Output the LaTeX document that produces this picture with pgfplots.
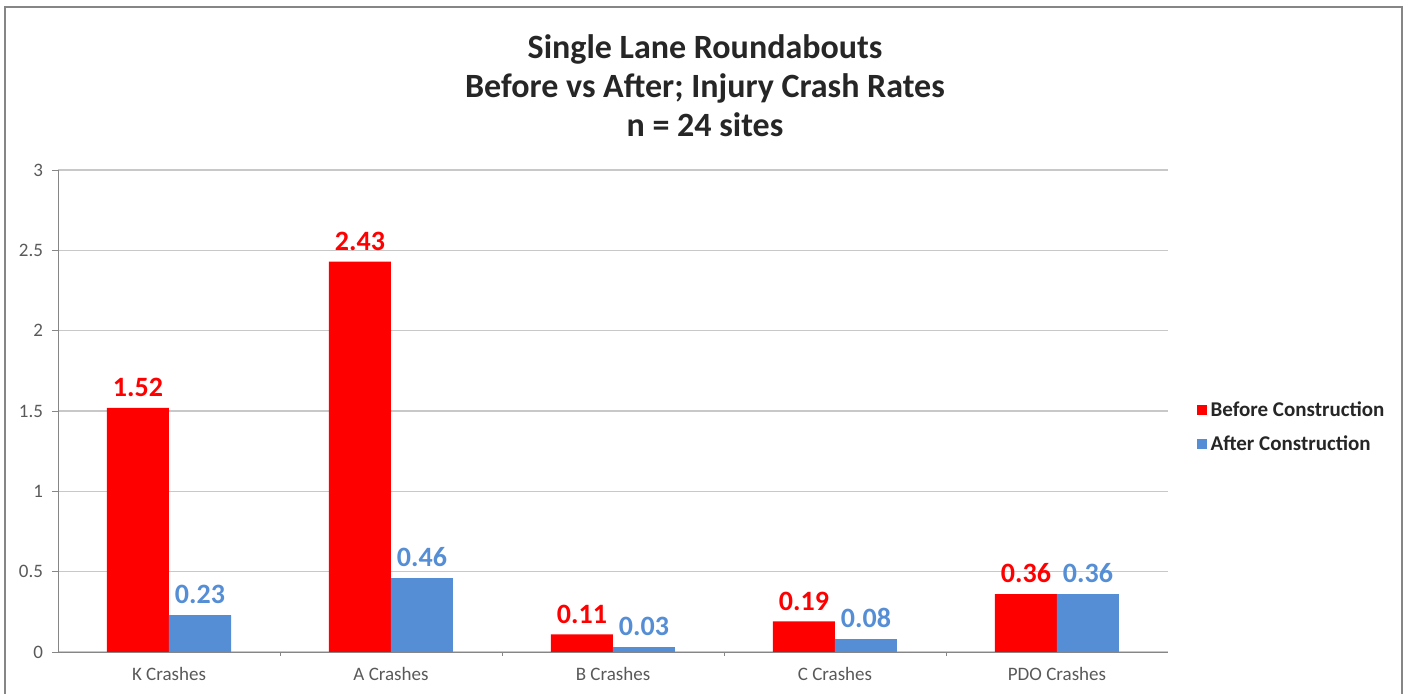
\documentclass[border=0pt]{standalone}
\usepackage{fontspec}
\setmainfont{Carlito}
\usepackage{pgfplots}
\pgfplotsset{compat=1.18}
\definecolor{bred}{RGB}{255,0,0}
\definecolor{bblue}{RGB}{85,142,213}
\definecolor{gridc}{RGB}{200,200,200}
\definecolor{axc}{RGB}{134,134,134}
\definecolor{tickc}{RGB}{89,89,89}
\begin{document}
\begin{tikzpicture}[x=1pt,y=1pt]
\path[use as bounding box] (0,0) rectangle (705,347);
\draw[axc,line width=1pt] (2.5,0) -- (2.5,343.5) -- (701,343.5) -- (701,0);
\node[align=center,font=\fontsize{17}{19.5}\selectfont\bfseries,text=black!85] at (352.5,304) {Single Lane Roundabouts\\Before vs After; Injury Crash Rates\\n = 24 sites};
\begin{axis}[
  at={(29pt,21pt)}, anchor=south west,
  scale only axis, width=555pt, height=241pt,
  ymin=0, ymax=3, ytick={0,0.5,1,1.5,2,2.5,3},
  yticklabels={0,0.5,1,1.5,2,2.5,3},
  xmin=-0.5, xmax=4.5,
  xtick={0,1,2,3,4},
  xticklabels={K Crashes,A Crashes,B Crashes,C Crashes,PDO Crashes},
  minor xtick={0.5,1.5,2.5,3.5},
  major x tick style={draw=none},
  minor x tick style={draw=axc},
  axis x line*=bottom, axis y line*=left,
  axis line style={draw=axc,-},
  ymajorgrids, grid style={gridc, line width=0.6pt},
  tick align=outside, major tick length=3pt, minor tick length=2pt,
  y tick style={draw=axc},
  tick label style={font=\fontsize{9.5}{10}\selectfont, text=tickc},
  yticklabel style={xshift=-1pt},
  xticklabel style={yshift=-1pt},
  ybar=0pt, bar width=31pt,
  point meta=explicit symbolic,
  nodes near coords,
  every node near coord/.append style={font=\fontsize{14}{15}\selectfont\bfseries, yshift=2pt},
  legend style={at={(1.02,0.537)}, anchor=north west, draw=none, fill=none,
    font=\fontsize{10.5}{11}\selectfont\bfseries, row sep=4pt, text=black!85,
    /tikz/every even column/.append style={column sep=0pt}},
  legend cell align=left,
  legend image code/.code={\fill[#1] (0pt,-2.5pt) rectangle (5pt,2.5pt);},
]
\addplot[fill=bred, draw=none, every node near coord/.append style={text=bred}] coordinates {(0,1.52)[1.52] (1,2.43)[2.43] (2,0.11)[0.11] (3,0.19)[0.19] (4,0.36)[0.36]};
\addplot[fill=bblue, draw=none, every node near coord/.append style={text=bblue}] coordinates {(0,0.23)[0.23] (1,0.46)[0.46] (2,0.03)[0.03] (3,0.08)[0.08] (4,0.36)[0.36]};
\legend{Before Construction, After Construction}
\end{axis}
\end{tikzpicture}
\end{document}
